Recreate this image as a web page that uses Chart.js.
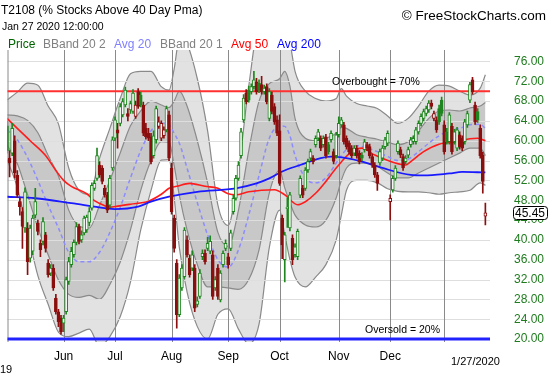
<!DOCTYPE html>
<html>
<head>
<meta charset="utf-8">
<script src="https://cdn.jsdelivr.net/npm/chart.js@4.4.0/dist/chart.umd.min.js"></script>
<style>
  body { margin: 0; background: #fff; }
  #wrap { position: relative; width: 550px; height: 375px; font-family: "Liberation Sans", Arial, sans-serif; }
  #wrap canvas { position: absolute; left: 0; top: 0; }
  .t { position: absolute; white-space: nowrap; line-height: 14px; }
</style>
</head>
<body>
<div id="wrap">
  <canvas id="chart" width="550" height="375"></canvas>
  <div class="t" style="left:1px;top:3px;font-size:12px;color:#000">T2108 (% Stocks Above 40 Day Pma)</div>
  <div class="t" style="left:2px;top:19px;font-size:10.5px;color:#000">Jan 27 2020 12:00:00</div>
  <div class="t" style="right:4px;top:9px;font-size:13.5px;color:#000">© FreeStockCharts.com</div>
  <div class="t" style="left:8px;top:37px;font-size:12px;color:#006400">Price</div>
  <div class="t" style="left:43px;top:37px;font-size:12px;color:#808080">BBand 20 2</div>
  <div class="t" style="left:114px;top:37px;font-size:12px;color:#8080ff">Avg 20</div>
  <div class="t" style="left:160px;top:37px;font-size:12px;color:#808080">BBand 20 1</div>
  <div class="t" style="left:231px;top:37px;font-size:12px;color:#ff0000">Avg 50</div>
  <div class="t" style="left:277px;top:37px;font-size:12px;color:#0000ff">Avg 200</div>
</div>
<script>
// daily candles, [open, high, low, close], one trading day per row
const may = [
  [63,64,57.5,58],[56.5,58,52.7,55.5],[57.5,63.5,57,62.5],[60,61,52.5,53.5],[53,54,48.5,49],
  [47.7,48.5,45,46.7],[45.7,46.5,38.3,42.7],[42.4,50.5,41.5,49.7],[42.4,43.5,33,35.6],[36.3,43,35.5,42.4],
  [37.7,45,37,44.4],[45,50.4,44.5,47.7],[43.4,44,41,41.7],[39.3,40,36.6,38],[39.7,44.5,39,43.7],
  [41,41.5,37.5,38.3],[35.3,36,32.5,33],[33.3,35,32.8,34.3],[34.3,35,29.8,30.3],[28.2,29,25,25.5],
  [25.5,26,22.5,23.5],[24.2,24.8,21,21.5]
]
const jun = [
  [23.2,24.8,21.5,24.2],[25.5,32.5,25,32],[31.6,36.5,31,35.6],[35,38.5,34.5,37.7],[37,40,36.5,39.5],
  [39.5,43.5,39,42.7],[42.7,43.2,39.2,39.7],[40,41.8,39.5,41],[41.4,44.8,41,44.4],[42,45,41.5,44.6],
  [43.5,46.5,42.8,45.7],[46.4,51.5,46,51],[50.4,52,50,51.4],[52.4,58.5,52,57],[55.1,55.8,52.6,53.1],
  [54.5,55,51.3,51.8],[50.4,51,48.6,49.1],[49.1,49.6,45.5,46],[47,53,46.5,52.4],[54.5,60.8,54,60.2]
]
const jul = [
  [60.5,64.8,60,64.2],[62.2,63.5,58.5,61.5],[63.5,67.5,63,66.9],[65.2,68.5,64.8,67.9],[67.2,70.8,66.8,70.2],
  [65.5,66.5,64,64.9],[66.2,68,65.5,67.5],[65.9,70.3,65.5,69.6],[64.9,68,64.5,67.2],[69.9,70.5,66.5,66.9],
  [69.2,69.8,66.8,67.2],[67.2,67.8,61,61.5],[62.5,63.5,60.3,60.8],[61.5,62.5,60,60.5],[60.8,61.5,55.3,55.8],
  [57,62,56.5,61],[60.2,67,59.5,66.5],[62.9,64.8,62.5,63.8],[60.5,64,60,63.5],[61,62.8,60.5,62.2],
  [62.2,67,61.8,66.5],[65.2,66,56,56.5]
]
const aug = [
  [54.5,55.5,45.2,45.7],[44.4,45,37.5,38.3],[35.3,36,22.2,24.9],[24.9,33,24.5,32.3],[30.3,35,29.8,34.3],
  [32.6,42.5,32.2,42],[40,40.8,36.5,37],[36.3,37,32.5,33],[34.3,37.8,33.8,37],[34.3,35,25.5,26.2],
  [27,28.5,26.5,27.7],[28.6,34,28.2,33.3],[36.6,38,36,37.3],[37.3,38,35.1,35.6],[38.3,40.5,37.8,39.3],
  [37.7,40.8,37.2,39.7],[37,37.8,28,28.6],[30.3,32.6,29.8,32],[34.3,35,28,28.6],[27.9,33.8,27.5,33.3],
  [35,37.8,34.5,37.3],[38.3,40,37.8,39.3]
]
const sep = [
  [36.6,37.3,34.3,35],[38.3,42,37.8,41.4],[45.7,49,45.2,48.4],[48.4,53,48,52.4],[52.4,55.8,52,55.1],
  [57,62.5,56.5,61.8],[64.2,69.3,63.7,68.6],[69.6,70.3,67.4,67.9],[70.2,71,67.8,68.2],[69.9,71.5,69.4,70.9],
  [70.9,74,70.4,72.3],[71.9,72.6,69.4,69.9],[71.6,72.3,69.7,70.2],[71.3,73,69.4,69.9],[69.9,71.2,69.4,70.6],
  [70.9,71.5,67.4,67.9],[64.5,70.5,64,69.9],[69.2,69.8,65.4,65.9],[66.9,67.5,63.3,63.8],[64.2,65,61,61.5]
]
const oct = [
  [62,65.2,51,51.4],[44.4,45,36.2,39],[36,41.5,31.5,41],[46.3,48.5,42.5,46.6],[42.4,49.6,41.8,49.1],
  [40.3,41,35,36],[37,39.2,36.5,38.6],[36.6,42.2,36,41.7],[49,52.9,48.5,52.4],[50.4,51,48.5,49],
  [50.4,54.6,50,54.1],[54.1,56.3,53.6,55.8],[56.5,58.3,56,57.8],[56.5,57,55.3,55.8],[59.2,61,58.7,60.5],
  [60.5,62.3,60,61.8],[60.5,61,58,58.5],[59.2,61,58.7,60.5],[60.8,61.3,56.5,57],[59.2,59.7,57.3,57.8],
  [60.2,62,59.7,61.5],[57.8,58.3,55.3,55.8],[57,61.7,56.5,61.2]
]
const nov = [
  [61.2,64.8,60.7,63.5],[63.2,64.7,62.8,64.2],[63.2,63.7,59.3,59.8],[60.5,61,58.3,58.8],[59.5,60,57.3,57.8],
  [58.5,59,56.5,57],[57.5,59,57,58.5],[58.5,59,56.5,57],[57.5,58,55.3,55.8],[57.1,57.6,56,56.5],
  [58.2,60.3,57.7,59.8],[59.2,59.7,58,58.5],[58.8,59.3,56.5,57],[56.8,57.3,54.6,55.1],[55.1,55.6,52.6,53.1],
  [53.1,53.6,50,51.4],[55.5,58.3,55,57.8],[56.5,59,56,58.5],[58.8,60.7,58.3,60.2],[59.5,62,59,61.5]
]
const dec = [
  [47.7,49.1,44,48.4],[50.1,52.9,49.6,52.4],[52.4,55,52,54.5],[57.8,60,57.3,59.5],[58.2,58.7,56.6,57.1],
  [56.8,57.3,54,54.5],[55.8,57,55.3,56.5],[57.1,58.7,56.6,58.2],[59.2,60.7,58.7,60.2],[59.8,61,59.3,60.5],
  [59.8,62.7,59.3,62.2],[61.8,64,61.3,63.5],[63.5,65.4,63,64.9],[64.5,66.4,64,65.9],[65.5,67,65,66.5],
  [66.2,68.1,65.7,67.6],[67.6,68.2,66.4,66.9],[64.5,66,64,65.5],[64.2,64.8,61.7,62.2],[66.5,67.2,63.3,63.8],
  [68.2,68.8,65,65.5]
]
const jan = [
  [63.2,64,57.3,57.8],[61.8,62.5,59.3,59.8],[59.8,65.7,59.3,65.2],[62.9,63.5,57.3,57.8],[59.8,62.3,59.3,61.8],
  [58.5,62.7,58,62.2],[61.2,61.8,58.3,58.8],[60.5,61,58,58.5],[59.8,64.3,59.3,63.8],[63.2,66,62.7,65.5],
  [68.2,71.8,67.7,71.3],[72.3,72.8,69.4,69.9],[67.2,67.8,63.3,63.8],[65.9,66.5,63.7,64.2],[62.5,63.2,56.5,57],
  [57.1,57.7,49.4,51.8],[44.8,47.4,43,45.45]
]

// bollinger bands and 20 day average, read at these day numbers
const bandDays = [0,4,8,12,16,20,24,28,32,36,40,44,48,52,56,60,63,65,67,70,74,78,82,86,90,94,98,102,106,108,110,112,116,120,124,128,130,132,136,140,144,148,152,156,160,164,168,172,176,180,184,186]
const avg20 = [62.2,60.2,56.6,52,47,42.4,37.5,35.6,35.6,37.5,41.5,46.5,52.5,58,62,63.5,63.2,61.5,59.5,54.5,47.5,41,36,34.5,38,45,53,60.5,63,62.9,61,57,52.5,51.5,52.5,55.5,57,58.2,59,58.5,57.8,56.8,56,56.3,57.8,59.5,61,62,62.5,63.2,63.3,62.5]
const bbUpper2 = [68.2,69.8,71.6,71.2,67,63.4,54.5,50,49.2,56.5,62.5,68.5,73.5,74,74,70.9,70.2,74.5,80.5,79.5,72.5,62,47,42.9,54,71,83,82.5,82,84.9,80,74,70,68.5,68,68.5,70.5,69,67.5,67,66.5,65,63.5,64.5,67,70,71.2,71,70,69.2,70.6,73.3]
const bbUpper1 = [65.2,65,64.1,61.6,57,52.9,46,42.8,42.4,47,52,57.5,63,66,68,67.2,66.7,68,70,67,60,51.5,41.5,38.7,46,58,68,71.5,72.5,74,71,64.5,60.5,60,60.5,61.5,62.7,62.5,61.2,60.7,60.3,59.7,59.2,59.8,62,64.5,66,66.2,66,66.6,67,67.7]
const bbLower1 = [59.2,55.4,49.1,42.4,37,31.9,29,28.4,28.8,28,31,35.5,42,50,56,59.8,59.7,55,49,42,35,30.5,30.5,30.3,30,32,38,49.5,54,50.5,47.5,45,43,42.6,44,48.5,52,54.5,55.5,55.5,54.8,53.5,52.5,52.5,53.5,54.5,55.5,56.5,57.5,58.5,58.5,57]
const bbLower2 = [56.2,50.6,41.6,32.8,27,21.4,20.5,21.2,22,18.5,20.5,24.5,31.5,42,50,56.1,56.2,48.5,38.5,29.5,22.5,20,25,26.1,22,19,23,38.5,46,41,36,32.5,30.5,32.5,35,40,45,50,52,52,51.5,50.3,49.8,49.7,49.7,49.5,49.2,49.5,49.7,50,51.5,51]

const avg50Days = [0,4,9,15,19,22,25,31,34,38,40,43,48,55,60,63,66,71,77,82,86,89,94,104,108,113,116,120,124,128,134,138,143,151,155,157,162,168,175,180,183,186]
const avg50 = [64.5,62.5,60,57,54,52,50.8,49.3,47.9,46.9,46.6,46.8,47.2,47.8,49.2,50.4,50.8,51.4,50.8,50.4,49.3,49.1,49.7,50.1,49.1,47.1,47.7,49.4,51.8,54.5,57.8,58.5,57.1,55.5,55.1,55.8,57.8,59.3,59.8,60.4,60.5,60]

const avg200Days = [0,11,25,38,42,51,56,63,74,89,97,102,107,114,122,126,132,138,146,157,162,172,177,186]
const avg200 = [48.7,48.4,47.4,46.4,46.2,46.7,47.7,48.7,49.7,50.4,51.4,52.4,53.8,55.1,56.5,56.8,56.5,55.8,54.5,53.1,53,53.4,53.7,53.6]

const monthStart = [0,22,42,64,86,106,129,149,170]
const monthLabel = ['','Jun','Jul','Aug','Sep','Oct','Nov','Dec','']
const yTicks = [20,24,28,32,36,40,44,48,52,56,60,64,68,72,76]
const overbought = 70
const oversold = 20

const ohlc = [...may, ...jun, ...jul, ...aug, ...sep, ...oct, ...nov, ...dec, ...jan]
const lastDay = ohlc.length - 1
const lastClose = ohlc[lastDay][3]

const GREEN = '#1f861f'
const RED = '#8b0f0f'
const candleColor = i => (i > 0 && ohlc[i][3] < ohlc[i - 1][3]) ? RED : GREEN
const candleFill = i => ohlc[i][3] >= ohlc[i][0] ? '#f6f6f6' : candleColor(i)

const pts = (days, vals) => days.map((d, k) => ({x: d, y: vals[k]}))
const fontName = '"Liberation Sans", Arial, sans-serif'

const bandLine = (vals, order, fill, bg) => ({
  type: 'line',
  data: pts(bandDays, vals),
  borderColor: '#8a8a8a',
  borderWidth: 1.2,
  pointRadius: 0,
  cubicInterpolationMode: 'monotone',
  fill: fill,
  backgroundColor: bg,
  order: order
})

// grid goes over the band fills but under the candles
const gridOverBands = {
  id: 'gridOverBands',
  afterDatasetDraw(chart, args) {
    if (args.index !== 3) return
    const {ctx, chartArea: a, scales: {x, y}} = chart
    ctx.save()
    ctx.lineWidth = 1
    ctx.strokeStyle = '#dedede'
    yTicks.forEach(v => {
      const py = Math.round(y.getPixelForValue(v)) + 0.5
      ctx.beginPath(); ctx.moveTo(a.left, py); ctx.lineTo(a.right, py); ctx.stroke()
    })
    ctx.strokeStyle = '#8a8a8a'
    monthStart.forEach(d => {
      const px = Math.max(a.left, Math.round(x.getPixelForValue(d))) + 0.5
      ctx.beginPath(); ctx.moveTo(px, a.top); ctx.lineTo(px, a.bottom); ctx.stroke()
    })
    ctx.restore()
  }
}

const overlay = {
  id: 'overlay',
  afterDraw(chart) {
    const {ctx, chartArea: a, scales: {y}} = chart
    ctx.save()
    ctx.fillStyle = '#000'
    ctx.textBaseline = 'middle'
    ctx.textAlign = 'left'
    ctx.font = '10.5px ' + fontName
    ctx.fillText('Overbought = 70%', 332, y.getPixelForValue(overbought) - 9)
    ctx.fillText('Oversold = 20%', 365, y.getPixelForValue(oversold) - 9)
    ctx.font = '11px ' + fontName
    ctx.fillText('1/27/2020', 451, 362)
    ctx.fillText('19', 0, 370)
    // last value box on the price axis
    const py = Math.round(y.getPixelForValue(lastClose))
    ctx.fillStyle = '#fff'
    ctx.strokeStyle = '#000'
    ctx.lineWidth = 1
    ctx.beginPath()
    ctx.roundRect(a.right + 23.5, py - 6.5, 34, 13, 3)
    ctx.fill(); ctx.stroke()
    ctx.fillStyle = '#000'
    ctx.font = '12px ' + fontName
    ctx.fillText(lastClose.toFixed(2), a.right + 25, py + 0.5)
    ctx.restore()
  }
}

new Chart(document.getElementById('chart'), {
  type: 'line',
  data: {
    datasets: [
      bandLine(bbUpper2, 20, '+1', '#e2e2e2'),
      bandLine(bbLower2, 19, false, 'transparent'),
      bandLine(bbUpper1, 18, '+1', '#c8c8c8'),
      bandLine(bbLower1, 17, false, 'transparent'),
      {
        data: pts(bandDays, avg20),
        borderColor: '#8c8cff', borderWidth: 1.5, borderDash: [4, 3],
        pointRadius: 0, cubicInterpolationMode: 'monotone', order: 8
      },
      {
        data: pts(avg50Days, avg50),
        borderColor: '#ff1c1c', borderWidth: 1.6,
        pointRadius: 0, cubicInterpolationMode: 'monotone', order: 7
      },
      {
        data: pts(avg200Days, avg200),
        borderColor: '#1a1aff', borderWidth: 1.8,
        pointRadius: 0, cubicInterpolationMode: 'monotone', order: 6
      },
      {
        data: [{x: -1, y: overbought}, {x: 190, y: overbought}],
        borderColor: '#ff3030', borderWidth: 2, pointRadius: 0, order: 5
      },
      {
        data: [{x: -1, y: oversold}, {x: 190, y: oversold}],
        borderColor: '#2222ff', borderWidth: 3, pointRadius: 0, order: 5
      },
      {
        type: 'bar',
        data: ohlc.map((c, i) => ({x: i, y: [c[2], c[1]]})),
        barThickness: 1,
        grouped: false,
        backgroundColor: ctx => candleColor(ctx.dataIndex),
        order: 2
      },
      {
        type: 'bar',
        data: ohlc.map((c, i) => ({x: i, y: [c[0], c[3]]})),
        barThickness: 3,
        grouped: false,
        borderWidth: 1,
        borderSkipped: false,
        borderColor: ctx => candleColor(ctx.dataIndex),
        backgroundColor: ctx => candleFill(ctx.dataIndex),
        order: 1
      }
    ]
  },
  options: {
    responsive: false,
    animation: false,
    layout: { padding: { top: 50, left: 0, right: 0, bottom: 0 } },
    plugins: { legend: { display: false }, tooltip: { enabled: false } },
    scales: {
      x: {
        type: 'linear',
        min: 0.2,
        max: 187.8,
        offset: false,
        afterBuildTicks: s => { s.ticks = monthStart.map(v => ({value: v})) },
        afterFit: s => { s.height = 33 },
        ticks: {
          autoSkip: false, maxRotation: 0, padding: 7, color: '#000',
          font: { family: fontName, size: 12 },
          callback: v => monthLabel[monthStart.indexOf(v)]
        },
        grid: { display: false, drawTicks: false, offset: false },
        border: { display: false }
      },
      y: {
        type: 'linear',
        position: 'right',
        min: 19.4,
        max: 78.3,
        afterBuildTicks: s => { s.ticks = yTicks.map(v => ({value: v})) },
        afterFit: s => { s.width = 60 },
        ticks: {
          padding: 24, color: '#1e7b1e',
          font: { family: fontName, size: 12 },
          callback: v => v.toFixed(2)
        },
        grid: { display: false, drawTicks: false },
        border: { display: false }
      }
    }
  },
  plugins: [gridOverBands, overlay]
})
</script>
</body>
</html>
